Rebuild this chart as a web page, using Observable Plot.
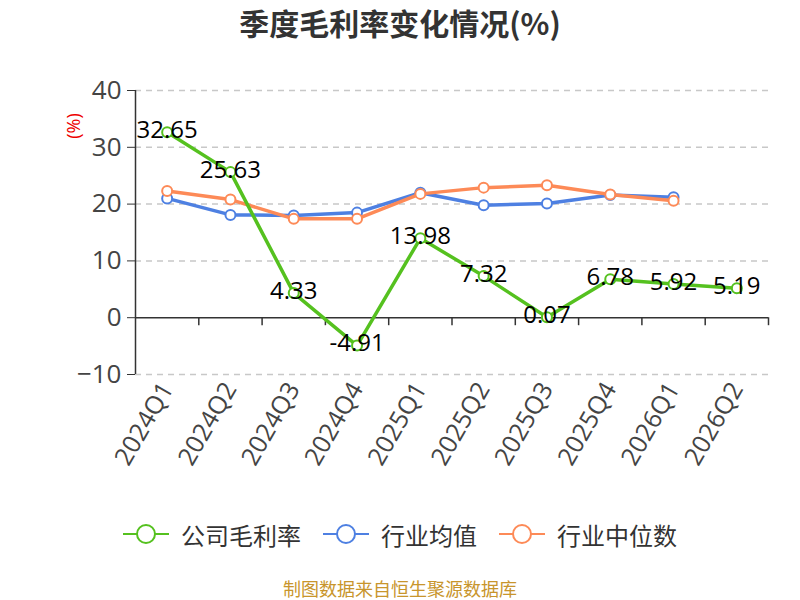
<!DOCTYPE html>
<html>
<head>
<meta charset="utf-8">
<script src="https://cdn.jsdelivr.net/npm/d3@7"></script>
<script src="https://cdn.jsdelivr.net/npm/@observablehq/plot@0.6"></script>
<style>
  body { margin: 0; background: #fff; }
  #wrap { position: relative; width: 800px; height: 600px; overflow: hidden; font-family: "Open Sans", "Noto Sans CJK SC", sans-serif; }
  #title { position: absolute; left: 0; top: 0; width: 800px; height: 44px; line-height: 44px; text-align: center; font-size: 30px; font-weight: bold; color: #333; font-family: "Noto Sans CJK SC", sans-serif; }
  #unit { position: absolute; left: 56px; top: 115px; width: 34px; height: 22px; line-height: 22px; text-align: center; color: #e00; font-size: 18px; transform: rotate(-90deg); transform-origin: center; }
  #chart { position: absolute; left: 0; top: 44px; }
  #legend { position: absolute; left: 0; top: 517px; width: 800px; height: 34px; display: flex; justify-content: center; align-items: center; font-family: "Noto Sans CJK SC", sans-serif; font-size: 24px; color: #333; }
  .item { display: flex; align-items: center; margin: 0 11px; }
  .item svg { margin-right: 12px; }
  #source { position: absolute; left: 0; top: 576px; width: 800px; height: 24px; line-height: 24px; text-align: center; font-size: 18px; color: #c8952c; font-family: "Noto Sans CJK SC", sans-serif; }
</style>
</head>
<body>
<div id="wrap">
  <div id="title">季度毛利率变化情况(%)</div>
  <div id="unit">(%)</div>
  <div id="chart"></div>
  <div id="legend"></div>
  <div id="source">制图数据来自恒生聚源数据库</div>
</div>
<script>
const quarters = ["2024Q1","2024Q2","2024Q3","2024Q4","2025Q1","2025Q2","2025Q3","2025Q4","2026Q1","2026Q2"];
const companyGM = [32.65, 25.63, 4.33, -4.91, 13.98, 7.32, 0.07, 6.78, 5.92, 5.19];
const industryAvg = [21.0, 18.1, 18.0, 18.5, 22.0, 19.8, 20.1, 21.6, 21.2];
const industryMedian = [22.3, 20.8, 17.4, 17.4, 21.8, 22.9, 23.3, 21.7, 20.6];
const yTicks = [-10, 0, 10, 20, 30, 40];
const seriesNames = ["公司毛利率", "行业均值", "行业中位数"];
const colors = ["#55c11f", "#4e80e2", "#fd8a57"];

const toRows = (vals) => vals.map((v, i) => ({i: i + 0.5, q: quarters[i], v}));
const rowsCo = toRows(companyGM);
const rowsAvg = toRows(industryAvg);
const rowsMed = toRows(industryMedian);
const centers = quarters.map((q, i) => i + 0.5);
const edges = d3.range(0, quarters.length + 1);

const font = '"Open Sans", "Noto Sans CJK SC", sans-serif';

const chart = Plot.plot({
  width: 800,
  height: 470,
  marginLeft: 135,
  marginRight: 32,
  marginTop: 46,
  marginBottom: 140,
  style: {fontFamily: font, background: "transparent"},
  x: {domain: [0, quarters.length], axis: null},
  y: {domain: [-10, 40], axis: null},
  marks: [
    Plot.gridY(yTicks.filter(d => d !== 0), {stroke: "#c8c8c8", strokeOpacity: 1, strokeDasharray: "6,5", strokeWidth: 1.5}),
    Plot.axisY(yTicks, {tickSize: 8, tickPadding: 6, fontSize: 26, fill: "#444", stroke: "#333", strokeOpacity: 1, label: null}),
    Plot.ruleX([0], {stroke: "#333", strokeWidth: 1.5}),
    Plot.ruleY([0], {stroke: "#333", strokeWidth: 1.5}),
    Plot.ruleX(edges.slice(1), {y1: 0, y2: 0, insetBottom: -8, stroke: "#333", strokeWidth: 1.5}),
    Plot.axisX(centers, {tickFormat: d => quarters[Math.floor(d)], tickRotate: -60, tickSize: 0, tickPadding: 10, fontSize: 25, fill: "#444", label: null}),
    Plot.line(rowsAvg, {x: "i", y: "v", stroke: colors[1], strokeWidth: 3.5}),
    Plot.dot(rowsAvg, {x: "i", y: "v", r: 5, fill: "#fff", stroke: colors[1], strokeWidth: 2}),
    Plot.line(rowsMed, {x: "i", y: "v", stroke: colors[2], strokeWidth: 3.5}),
    Plot.dot(rowsMed, {x: "i", y: "v", r: 5, fill: "#fff", stroke: colors[2], strokeWidth: 2}),
    Plot.line(rowsCo, {x: "i", y: "v", stroke: colors[0], strokeWidth: 3.5}),
    Plot.dot(rowsCo, {x: "i", y: "v", r: 5, fill: "#fff", stroke: colors[0], strokeWidth: 2}),
    Plot.text(rowsCo, {x: "i", y: "v", text: d => d.v.toFixed(2), fontSize: 24, fill: "#000", dy: -2, lineAnchor: "middle"})
  ]
});
document.getElementById("chart").appendChild(chart);

const legend = document.getElementById("legend");
seriesNames.forEach((name, k) => {
  const item = document.createElement("div");
  item.className = "item";
  item.innerHTML = `<svg width="46" height="24"><line x1="0" y1="12" x2="46" y2="12" stroke="${colors[k]}" stroke-width="2"/><circle cx="23" cy="12" r="9" fill="#fff" stroke="${colors[k]}" stroke-width="2"/></svg><span>${name}</span>`;
  legend.appendChild(item);
});
</script>
</body>
</html>
